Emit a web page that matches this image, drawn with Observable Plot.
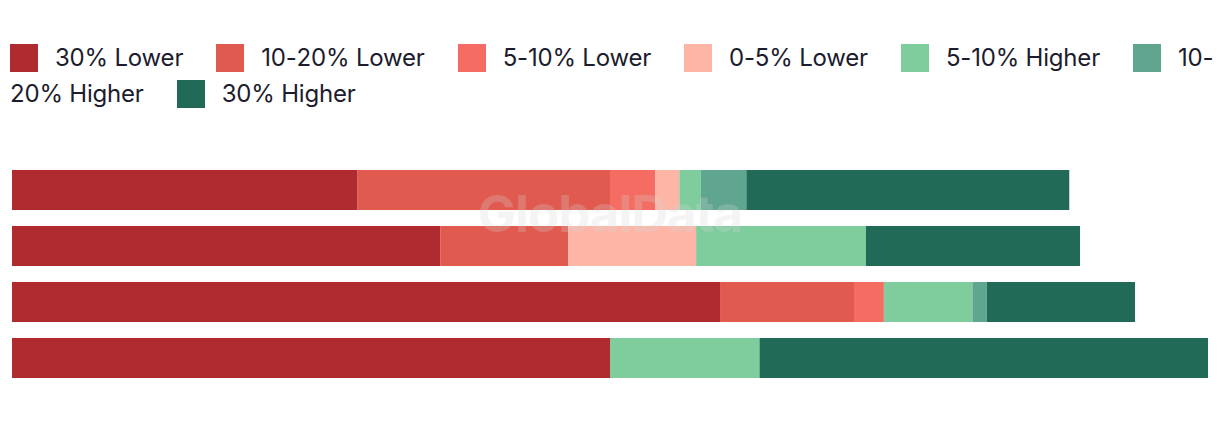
<!DOCTYPE html>
<html>
<head>
<meta charset="utf-8">
<script src="https://cdn.jsdelivr.net/npm/d3@7"></script>
<script src="https://cdn.jsdelivr.net/npm/@observablehq/plot@0.6"></script>
<style>
  html, body { margin: 0; padding: 0; background: #fff; }
  body { width: 1220px; height: 422px; position: relative; overflow: hidden; font-family: Inter, "Noto Sans", sans-serif; }
  #legend { position: absolute; left: 10px; top: 40px; width: 1205px; font-size: 24px; line-height: 36px; color: #1c1c2e; letter-spacing: -0.2px; }
  #legend .sw { display: inline-block; width: 28px; height: 28px; vertical-align: -6px; margin-right: 17px; }
  #legend .gap { display: inline-block; width: 33px; }
  #chart { position: absolute; left: 0; top: 130px; }
  #wm { position: absolute; left: 0; width: 1220px; top: 183px; text-align: center; font: bold 51px Inter, sans-serif; color: rgba(213,213,213,0.26); pointer-events: none; letter-spacing: -1px; }
</style>
</head>
<body>
<div id="legend"></div>
<div id="chart"></div>
<div id="wm">GlobalData</div>
<script>
const categories = ["1", "2", "3", "4"];
const seriesNames = ["30% Lower", "10-20% Lower", "5-10% Lower", "0-5% Lower", "5-10% Higher", "10-20% Higher", "30% Higher"];
const colors = ["#b02b2f", "#e05a4f", "#f46c62", "#fdb5a6", "#7fcd9d", "#5fa58f", "#216a58"];

const lower30  = [28.9, 35.8, 59.2, 50.0];
const lower10  = [21.1, 10.7, 11.2, 0];
const lower5   = [3.8, 0, 2.5, 0];
const lower0   = [2.0, 10.7, 0, 0];
const higher5  = [1.8, 14.2, 7.4, 12.5];
const higher10 = [3.8, 0, 1.2, 0];
const higher30 = [27.0, 17.9, 12.4, 37.5];

const seriesValues = [lower30, lower10, lower5, lower0, higher5, higher10, higher30];

const data = [];
seriesNames.forEach((s, i) => {
  categories.forEach((c, j) => {
    data.push({category: c, series: s, value: seriesValues[i][j]});
  });
});

// legend (allow a line break after hyphens, as in the original)
const legend = document.getElementById("legend");
seriesNames.forEach((s, i) => {
  const item = document.createElement("span");
  const sw = document.createElement("span");
  sw.className = "sw";
  sw.style.background = colors[i];
  item.appendChild(sw);
  const parts = s.split("-");
  parts.forEach((p, k) => {
    item.appendChild(document.createTextNode(k < parts.length - 1 ? p + "-" : p));
    if (k < parts.length - 1) item.appendChild(document.createElement("wbr"));
  });
  legend.appendChild(item);
  if (i < seriesNames.length - 1) {
    const g = document.createElement("span");
    g.className = "gap";
    legend.appendChild(g);
  }
});

const chart = Plot.plot({
  width: 1220,
  height: 292,
  marginLeft: 12,
  marginRight: 12,
  marginTop: 40,
  marginBottom: 44,
  x: {domain: [0, 100], axis: null},
  y: {domain: categories, axis: null, paddingInner: 16 / 56, paddingOuter: 0},
  color: {domain: seriesNames, range: colors},
  marks: [
    Plot.barX(data, Plot.stackX({x: "value", y: "category", fill: "series", order: seriesNames}))
  ]
});
document.getElementById("chart").appendChild(chart);
</script>
</body>
</html>
